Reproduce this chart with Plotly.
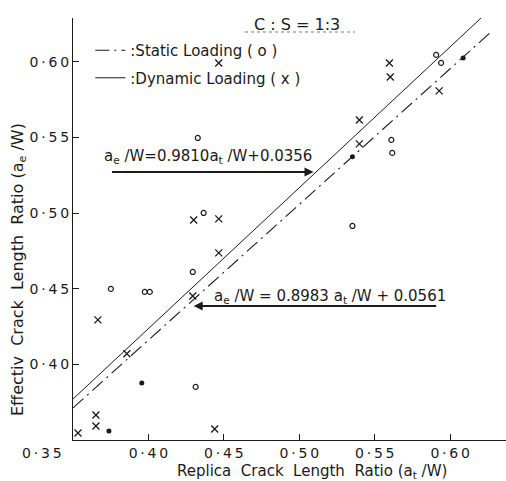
import plotly.graph_objects as go

# ---- data ----
dyn_x = [0.3533, 0.3652, 0.3652, 0.3665, 0.3857, 0.4439, 0.4300, 0.4466, 0.4466,
         0.4294, 0.4466, 0.5597, 0.5603, 0.5927, 0.5398, 0.5398]
dyn_y = [0.3546, 0.3665, 0.3593, 0.4294, 0.4070, 0.3573, 0.4955, 0.4962, 0.4737,
         0.4452, 0.5993, 0.5993, 0.5900, 0.5808, 0.5616, 0.5458]

sta_x = [0.3751, 0.3976, 0.4009, 0.4313, 0.4294, 0.4366, 0.4327, 0.5352,
         0.5610, 0.5616, 0.5907, 0.5940]
sta_y = [0.4499, 0.4479, 0.4479, 0.3851, 0.4611, 0.5001, 0.5497, 0.4915,
         0.5484, 0.5398, 0.6046, 0.5993]
sta_fill_x = [0.3738, 0.3956, 0.5352, 0.6086]
sta_fill_y = [0.3560, 0.3877, 0.5372, 0.6026]

# fitted lines as drawn (end points)
dyn_line_x = [0.3500, 0.6284]
dyn_line_y = [0.3771, 0.6364]
sta_line_x = [0.3500, 0.6271]
sta_line_y = [0.3712, 0.6198]

tick_vals = [0.40, 0.45, 0.50, 0.55, 0.60]
tick_text = ["0\u2009·\u20094\u20090", "0\u2009·\u20094\u20095", "0\u2009·\u20095\u20090",
             "0\u2009·\u20095\u20095", "0\u2009·\u20096\u20090"]

FONT = "DejaVu Sans"
INK = "#1a1a1a"

fig = go.Figure()

fig.add_trace(go.Scatter(x=sta_line_x, y=sta_line_y, mode="lines",
                         line=dict(color=INK, width=1.1, dash="14px,5px,2px,5px"),
                         name=":Static Loading ( o )", legendgroup="a"))
fig.add_trace(go.Scatter(x=dyn_line_x, y=dyn_line_y, mode="lines",
                         line=dict(color=INK, width=1.0),
                         name=":Dynamic Loading ( x )", legendgroup="b"))

fig.add_trace(go.Scatter(x=dyn_x, y=dyn_y, mode="markers", showlegend=False,
                         marker=dict(symbol="x-thin", size=7, line=dict(color=INK, width=1.3))))
fig.add_trace(go.Scatter(x=sta_x, y=sta_y, mode="markers", showlegend=False,
                         marker=dict(symbol="circle-open", size=5, color=INK, line=dict(color=INK, width=1.2))))
fig.add_trace(go.Scatter(x=sta_fill_x, y=sta_fill_y, mode="markers", showlegend=False,
                         marker=dict(symbol="circle", size=5, color=INK)))

axis_common = dict(showgrid=False, zeroline=False, showline=True, linecolor=INK, linewidth=1.3,
                   ticks="inside", ticklen=6, tickcolor=INK, tickwidth=1,
                   tickfont=dict(family=FONT, size=14, color=INK), mirror=False)

fig.update_xaxes(range=[0.35, 0.637], tickvals=tick_vals, ticktext=tick_text, **axis_common)
fig.update_yaxes(range=[0.35, 0.629], tickvals=tick_vals, ticktext=tick_text, **axis_common)

ann = []
ann.append(dict(x=0.35, y=0.35, xref="x", yref="y", text="0\u2009·\u20093\u20095", showarrow=False,
                xanchor="right", yanchor="top", xshift=-9, yshift=-3,
                font=dict(family=FONT, size=14, color=INK)))
ann.append(dict(x=(312 - 73) / 433, y=(440 - 471) / 422, xref="paper", yref="paper",
                text="Replica  Crack  Length  Ratio (a<sub>t</sub> /W)", showarrow=False,
                xanchor="center", yanchor="middle", font=dict(family=FONT, size=15, color=INK)))
ann.append(dict(x=(18 - 73) / 433, y=(440 - 270) / 422, xref="paper", yref="paper", textangle=-90,
                text="Effectiv  Crack  Length  Ratio (a<sub>e</sub> /W)", showarrow=False,
                xanchor="center", yanchor="middle", font=dict(family=FONT, size=16, color=INK)))
ann.append(dict(x=(297 - 73) / 433, y=(440 - 24) / 422, xref="paper", yref="paper", text="C : S = 1:3",
                showarrow=False, xanchor="center", yanchor="middle",
                font=dict(family=FONT, size=16, color=INK)))
# equation 1
ann.append(dict(x=0.4393, y=0.5372, xref="x", yref="y",
                text="a<sub>e</sub> /W=0.9810a<sub>t</sub> /W+0.0356", showarrow=False,
                xanchor="center", yanchor="middle", font=dict(family=FONT, size=15, color=INK)))
ann.append(dict(x=0.5094, y=0.5272, xref="x", yref="y", text="", showarrow=True,
                ax=-203, ay=0, arrowhead=2, arrowsize=1, arrowwidth=1.8, arrowcolor=INK))
# equation 2
ann.append(dict(x=0.5206, y=0.4446, xref="x", yref="y",
                text="a<sub>e</sub> /W = 0.8983 a<sub>t</sub> /W + 0.0561", showarrow=False,
                xanchor="center", yanchor="middle", font=dict(family=FONT, size=15, color=INK)))
ann.append(dict(x=0.4300, y=0.4386, xref="x", yref="y", text="", showarrow=True,
                ax=244, ay=0, arrowhead=2, arrowsize=1, arrowwidth=1.8, arrowcolor=INK))

shapes = [dict(type="line", xref="paper", yref="paper",
               x0=(245 - 73) / 433, x1=(355 - 73) / 433,
               y0=(440 - 32) / 422, y1=(440 - 32) / 422,
               line=dict(color="#777", width=1, dash="dot"))]

fig.update_layout(
    width=506, height=481,
    margin=dict(l=73, r=0, t=18, b=41),
    paper_bgcolor="white", plot_bgcolor="white",
    annotations=ann, shapes=shapes,
    showlegend=True,
    legend=dict(x=0.04, y=0.962, xanchor="left", yanchor="top", bgcolor="rgba(0,0,0,0)",
                font=dict(family=FONT, size=15, color=INK), tracegroupgap=5,
                itemwidth=30),
)

fig.write_html("out.html")
